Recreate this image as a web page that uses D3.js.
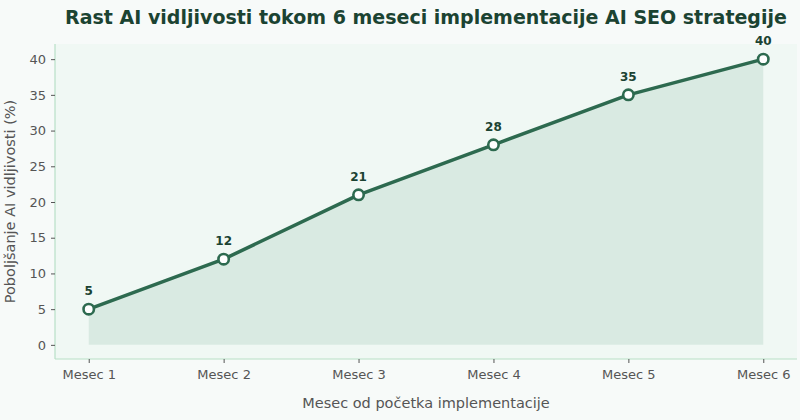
<!DOCTYPE html>
<html><head><meta charset="utf-8">
<script src="https://cdn.jsdelivr.net/npm/d3@7"></script>
<style>body{margin:0;background:#f7faf9;}svg{display:block;font-family:"DejaVu Sans",sans-serif;}</style>
</head><body><svg id="c" width="800" height="420"></svg>
<script>
const categories = ["Mesec 1","Mesec 2","Mesec 3","Mesec 4","Mesec 5","Mesec 6"];
const values = [5,12,21,28,35,40];
const yTicks = [0,5,10,15,20,25,30,35,40];
const title = "Rast AI vidljivosti tokom 6 meseci implementacije AI SEO strategije";
const xLabel = "Mesec od početka implementacije";
const yLabel = "Poboljšanje AI vidljivosti (%)";

const svg = d3.select("#c");
const m = {l:55, r:3, t:44, b:61};
const W = 800, H = 420;
svg.append("rect").attr("width",W).attr("height",H).attr("fill","#f7faf9");
const x = d3.scaleLinear().domain([-0.25, categories.length-0.75]).range([m.l, W-m.r]);
const y = d3.scaleLinear().domain([-2.05, 42.05]).range([H-m.b+0.5, m.t+0.5]);

svg.append("rect").attr("x",m.l).attr("y",m.t).attr("width",W-m.r-m.l).attr("height",H-m.b-m.t).attr("fill","#f0f8f4");

const area = d3.area().x((d,i)=>x(i)).y0(y(0)).y1(d=>y(d));
svg.append("path").datum(values).attr("d",area).attr("fill","#d9eae2");

const line = d3.line().x((d,i)=>x(i)).y(d=>y(d));
svg.append("path").datum(values).attr("d",line).attr("fill","none").attr("stroke","#2d6a4f").attr("stroke-width",3.5).attr("stroke-linejoin","round");

svg.selectAll("circle.pt").data(values).join("circle").attr("class","pt")
  .attr("cx",(d,i)=>x(i)).attr("cy",d=>y(d)).attr("r",5.2)
  .attr("fill","#ffffff").attr("stroke","#2d6a4f").attr("stroke-width",2.6);

svg.selectAll("text.lbl").data(values).join("text").attr("class","lbl")
  .attr("x",(d,i)=>x(i)).attr("y",d=>y(d)-14).attr("text-anchor","middle")
  .attr("font-size",12).attr("font-weight","bold").attr("fill","#1b4332").text(d=>d);

// axes
const yAxis = d3.axisLeft(y).tickValues(yTicks).tickSize(4).tickPadding(5);
const gy = svg.append("g").attr("transform",`translate(${m.l},0)`).call(yAxis);
const xAxis = d3.axisBottom(x).tickValues(d3.range(categories.length)).tickFormat(i=>categories[i]).tickSize(4).tickPadding(7);
const gx = svg.append("g").attr("transform",`translate(0,${H-m.b})`).call(xAxis);
[gx,gy].forEach(g=>{
  g.select(".domain").attr("stroke","#b7e0c6").attr("stroke-width",1.2);
  g.selectAll(".tick line").attr("stroke","#555");
  g.selectAll(".tick text").attr("fill","#555").attr("font-size",13).attr("font-family","DejaVu Sans");
});
gy.select(".domain").attr("d",`M0,${m.t}V${H-m.b}`);
gx.select(".domain").attr("d",`M${m.l},0H${W-m.r}`);

svg.append("text").attr("x",(m.l+W-m.r)/2).attr("y",24).attr("text-anchor","middle")
  .attr("font-size",19).attr("font-weight","bold").attr("fill","#1b4332").text(title);
svg.append("text").attr("x",(m.l+W-m.r)/2).attr("y",408).attr("text-anchor","middle")
  .attr("font-size",14.5).attr("fill","#555").text(xLabel);
svg.append("text").attr("transform",`translate(15,${(m.t+H-m.b)/2}) rotate(-90)`).attr("text-anchor","middle")
  .attr("font-size",14.5).attr("fill","#555").text(yLabel);
</script></body></html>
